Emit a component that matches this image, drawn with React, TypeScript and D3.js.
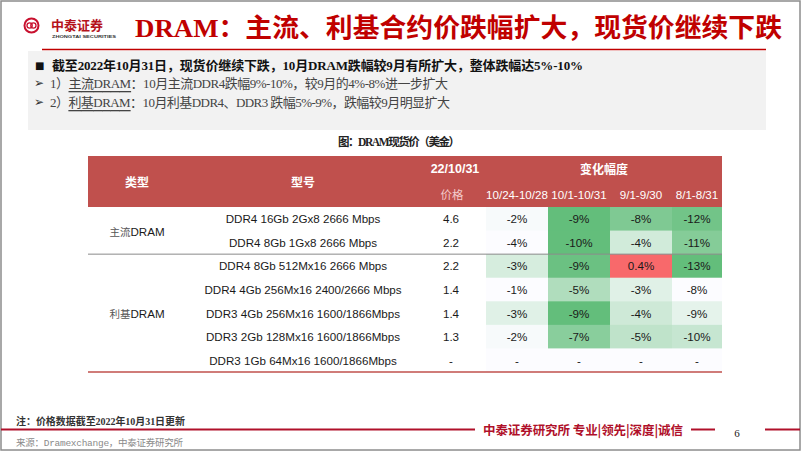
import React from "react";
import * as d3 from "d3";

const titleText = "DRAM：主流、利基合约价跌幅扩大，现货价继续下跌";
const chartTitle = "图：DRAM现货价（美金）";
const bullet1 = "截至2022年10月31日，现货价继续下跌，10月DRAM跌幅较9月有所扩大，整体跌幅达5%-10%";
const bullet2 = ["1）", "主流DRAM", "：10月主流DDR4跌幅9%-10%，较9月的4%-8%进一步扩大"];
const bullet3 = ["2）", "利基DRAM", "：10月利基DDR4、DDR3 跌幅5%-9%，跌幅较9月明显扩大"];
const noteText = "注：价格数据截至2022年10月31日更新";
const sourceText = "来源：Dramexchange，中泰证券研究所";
const sloganText = "中泰证券研究所 专业|领先|深度|诚信";
const pageNo = "6";

const headerType = "类型";
const headerModel = "型号";
const headerDate = "22/10/31";
const headerPrice = "价格";
const headerChange = "变化幅度";

const typeCjk = ["主流", "利基"];
const typeLatin = ["DRAM", "DRAM"];
const typeRowCounts = [2, 5];
const models = [
  "DDR4 16Gb 2Gx8 2666 Mbps",
  "DDR4 8Gb 1Gx8 2666 Mbps",
  "DDR4 8Gb 512Mx16 2666 Mbps",
  "DDR4 4Gb 256Mx16 2400/2666 Mbps",
  "DDR3 4Gb 256Mx16 1600/1866Mbps",
  "DDR3 2Gb 128Mx16 1600/1866Mbps",
  "DDR3 1Gb 64Mx16 1600/1866Mbps",
];
const prices = ["4.6", "2.2", "2.2", "1.4", "1.4", "1.3", "-"];
const periods = ["10/24-10/28", "10/1-10/31", "9/1-9/30", "8/1-8/31"];
const changes: (number | null)[][] = [
  [-2, -9, -8, -12],
  [-4, -10, -4, -11],
  [-3, -9, 0.4, -13],
  [-1, -5, -3, -8],
  [-3, -9, -4, -9],
  [-2, -7, -5, -10],
  [null, null, null, null],
];
// heat level of each cell (0 = white, 1 = full)
const heat: number[][] = [
  [0.03, 1, 0.82, 0.9],
  [0, 1, 0.28, 0.78],
  [0.25, 0.95, 1, 1],
  [0, 0.5, 0.18, 0],
  [0.18, 1, 0.3, 0.15],
  [0.03, 0.75, 0.4, 0.35],
  [0, 0, 0, 0],
];

const RED = "#c00000";
const CJK = "'Noto Sans CJK SC', sans-serif";
const SERIF = "'Liberation Serif', 'Noto Sans CJK SC', serif";
const SANS = "'Liberation Sans', Arial, 'Noto Sans CJK SC', sans-serif";

export default function App() {
  const W = 802, H = 451;
  const tableX0 = 88;
  const colWidths = [98, 234, 66, 62, 62, 62, 50];
  const edges = [tableX0, ...Array.from(d3.cumsum(colWidths), (v) => v + tableX0)];
  const tableX1 = edges[edges.length - 1];
  const colCenter = (i: number) => (edges[i] + edges[i + 1]) / 2;

  const headTop = 156, headMid = 181, headBottom = 207, tableBottom = 372;
  const y = d3.scaleBand<number>().domain(d3.range(models.length)).range([headBottom, tableBottom]);
  const rh = y.bandwidth();

  const greenScale = d3.scaleLinear<string>().domain([0, 1]).range(["#fcfcff", "#63be7b"]).interpolate(d3.interpolateRgb);
  const redScale = d3.scaleLinear<string>().domain([0, 1]).range(["#fcfcff", "#f8696b"]).interpolate(d3.interpolateRgb);
  const fmt = (v: number | null) => (v === null ? "-" : `${v}%`);

  const groupStarts = [0, ...Array.from(d3.cumsum(typeRowCounts))];

  return (
    <svg width={W} height={H} style={{ position: "absolute", left: 0, top: 0, display: "block" }}>
      <rect x={0} y={0} width={W} height={H} fill="#fff" />
      <rect x={1} y={1} width={799} height={449} fill="none" stroke="#8c8c8c" strokeWidth={1.5} />

      {/* logo */}
      <g>
        <circle cx={31.5} cy={25.5} r={7} fill="none" stroke="#c8102e" strokeWidth={2} />
        <circle cx={29.6} cy={25.5} r={2.6} fill="none" stroke="#c8102e" strokeWidth={1.3} />
        <circle cx={33.4} cy={25.5} r={2.6} fill="none" stroke="#c8102e" strokeWidth={1.3} />
        <text x={51} y={30} fontFamily={CJK} fontWeight={700} fontSize={13} fill="#b5121b" textLength={52} lengthAdjust="spacingAndGlyphs">中泰证券</text>
        <text x={52} y={37.5} fontFamily={SANS} fontWeight={700} fontSize={4} fill="#333" textLength={64} lengthAdjust="spacingAndGlyphs">ZHONGTAI SECURITIES</text>
      </g>

      {/* title */}
      <text x={135} y={37} fontFamily={SERIF} fontWeight={700} fontSize={26} fill={RED} textLength={647} lengthAdjust="spacingAndGlyphs">{titleText}</text>
      <line x1={42} x2={766} y1={49.5} y2={49.5} stroke={RED} strokeWidth={1.6} />

      {/* text box */}
      <rect x={28} y={51} width={738} height={79} fill="#f2f2f2" />
      <text x={35} y={65} dominantBaseline="central" fontFamily="'DejaVu Sans'" fontSize={10} fill="#111">■</text>
      <text x={52} y={65} dominantBaseline="central" fontFamily={SERIF} fontWeight={700} fontSize={13} fill="#111" textLength={531}>{bullet1}</text>
      <text x={34} y={83} dominantBaseline="central" fontFamily="'DejaVu Sans'" fontSize={12} fill="#333">➢</text>
      <text x={50} y={83} dominantBaseline="central" fontFamily={SERIF} fontSize={13} fill="#444" textLength={398}>
        <tspan>{bullet2[0]}</tspan>
        <tspan textDecoration="underline">{bullet2[1]}</tspan>
        <tspan>{bullet2[2]}</tspan>
      </text>
      <text x={34} y={102} dominantBaseline="central" fontFamily="'DejaVu Sans'" fontSize={12} fill="#333">➢</text>
      <text x={50} y={102} dominantBaseline="central" fontFamily={SERIF} fontSize={13} fill="#444" textLength={400}>
        <tspan>{bullet3[0]}</tspan>
        <tspan textDecoration="underline">{bullet3[1]}</tspan>
        <tspan>{bullet3[2]}</tspan>
      </text>

      {/* chart title */}
      <text x={399} y={142} textAnchor="middle" dominantBaseline="central" fontFamily={SERIF} fontWeight={700} fontSize={11.5} fill="#222" textLength={122}>{chartTitle}</text>

      {/* table header */}
      <rect x={tableX0} y={headTop} width={tableX1 - tableX0} height={headBottom - headTop} fill="#c0504d" />
      <text x={colCenter(0)} y={(headTop + headBottom) / 2} textAnchor="middle" dominantBaseline="central" fontFamily={CJK} fontWeight={700} fontSize={12} fill="#fff">{headerType}</text>
      <text x={colCenter(1)} y={(headTop + headBottom) / 2} textAnchor="middle" dominantBaseline="central" fontFamily={CJK} fontWeight={700} fontSize={12} fill="#fff">{headerModel}</text>
      <text x={colCenter(2) + 2} y={(headTop + headMid) / 2} textAnchor="middle" dominantBaseline="central" fontFamily={SANS} fontWeight={700} fontSize={12.5} fill="#fff">{headerDate}</text>
      <text x={colCenter(2) - 1} y={(headMid + headBottom) / 2} textAnchor="middle" dominantBaseline="central" fontFamily={CJK} fontSize={11.5} fill="#f3caca">{headerPrice}</text>
      <text x={(edges[3] + tableX1) / 2} y={(headTop + headMid) / 2} textAnchor="middle" dominantBaseline="central" fontFamily={CJK} fontWeight={700} fontSize={12} fill="#fff">{headerChange}</text>
      {periods.map((p, j) => (
        <text key={p} x={colCenter(3 + j)} y={(headMid + headBottom) / 2} textAnchor="middle" dominantBaseline="central" fontFamily={SANS} fontSize={11.6} fill="#fff">{p}</text>
      ))}

      {/* body cells */}
      {changes.map((row, i) =>
        row.map((v, j) => (
          <rect
            key={`c${i}-${j}`}
            x={edges[3 + j]}
            y={y(i)!}
            width={colWidths[3 + j]}
            height={rh + 0.5}
            fill={v !== null && v > 0 ? redScale(heat[i][j]) : greenScale(heat[i][j])}
          />
        ))
      )}

      {models.map((m, i) => (
        <g key={m}>
          <text x={colCenter(1)} y={y(i)! + rh / 2} textAnchor="middle" dominantBaseline="central" fontFamily={SANS} fontSize={11.6} fill="#1a1a1a">{m}</text>
          <text x={colCenter(2) - 2} y={y(i)! + rh / 2} textAnchor="middle" dominantBaseline="central" fontFamily={SANS} fontSize={11.6} fill="#1a1a1a">{prices[i]}</text>
          {changes[i].map((v, j) => (
            <text key={j} x={colCenter(3 + j)} y={y(i)! + rh / 2} textAnchor="middle" dominantBaseline="central" fontFamily={SANS} fontSize={11.6} fill="#1a1a1a">{fmt(v)}</text>
          ))}
        </g>
      ))}

      {typeCjk.map((t, g) => {
        const y0 = y(groupStarts[g])!;
        const y1 = y(groupStarts[g + 1] - 1)! + rh;
        return (
          <text key={g} x={colCenter(0)} y={(y0 + y1) / 2} textAnchor="middle" dominantBaseline="central" fill="#1a1a1a">
            <tspan fontFamily={CJK} fontSize={10.5} fill="#555">{t}</tspan>
            <tspan fontFamily={SANS} fontSize={11.6}>{typeLatin[g]}</tspan>
          </text>
        );
      })}

      {groupStarts.slice(1, -1).map((r) => (
        <line key={r} x1={tableX0} x2={tableX1} y1={y(r)!} y2={y(r)!} stroke="#8a8a8a" strokeWidth={1} />
      ))}
      <line x1={tableX0} x2={tableX1} y1={tableBottom} y2={tableBottom} stroke="#c0504d" strokeWidth={1.5} />

      {/* footer */}
      <text x={16} y={421.5} dominantBaseline="central" fontFamily={SERIF} fontWeight={700} fontSize={10} fill="#333" textLength={169}>{noteText}</text>
      <line x1={1} x2={475} y1={429.5} y2={429.5} stroke="#b0102a" strokeWidth={2} />
      <text x={483} y={429} dominantBaseline="central" fontFamily={CJK} fontWeight={700} fontSize={12.5} fill="#b0102a" textLength={200}>{sloganText}</text>
      <line x1={691} x2={715} y1={429.5} y2={429.5} stroke="#b0102a" strokeWidth={2} />
      <text x={737} y={433} textAnchor="middle" dominantBaseline="central" fontFamily={SERIF} fontSize={11} fill="#222">{pageNo}</text>
      <line x1={765} x2={800} y1={429.5} y2={429.5} stroke="#b0102a" strokeWidth={2} />
      <text x={16} y={443} dominantBaseline="central" fontFamily="'Liberation Mono', 'Noto Sans CJK SC', monospace" fontSize={9.5} fill="#8a8a8a" textLength={167}>{sourceText}</text>
    </svg>
  );
}
